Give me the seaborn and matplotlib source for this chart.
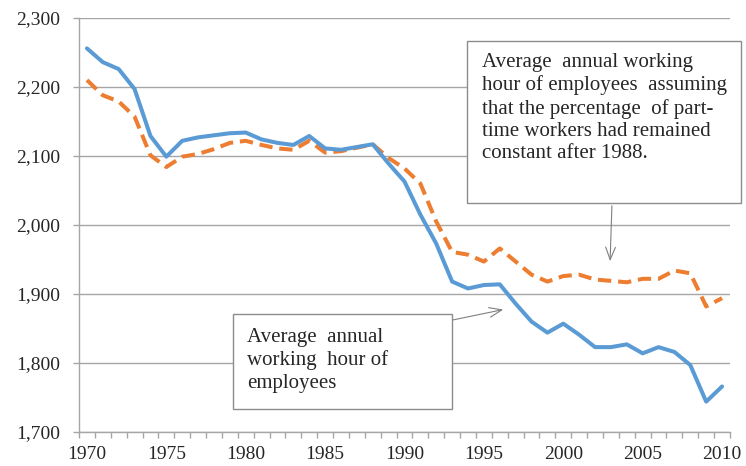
import numpy as np
import pandas as pd
import seaborn as sns
import matplotlib.pyplot as plt
from matplotlib.ticker import FuncFormatter, MultipleLocator
from matplotlib.patches import Rectangle

years = list(range(1970, 2011))

actual_hours = [2256, 2236, 2226, 2197, 2129, 2099, 2122, 2127, 2130, 2133,
                2134, 2124, 2119, 2116, 2129, 2111, 2109, 2113, 2117, 2089,
                2063, 2015, 1973, 1918, 1908, 1913, 1914, 1886, 1860, 1844,
                1857, 1841, 1823, 1823, 1827, 1814, 1823, 1816, 1797, 1744,
                1766]

constant_pt_hours = [2210, 2188, 2179, 2157, 2101, 2084, 2099, 2103, 2110, 2119,
                     2122, 2116, 2111, 2109, 2122, 2105, 2107, 2112, 2117, 2097,
                     2082, 2060, 2005, 1961, 1957, 1947, 1966, 1947, 1928, 1918,
                     1926, 1928, 1921, 1919, 1917, 1922, 1922, 1934, 1930, 1882,
                     1894]

label_actual = "Average  annual\nworking  hour of\nemployees"
label_constant = ("Average  annual working\nhour of employees  assuming\n"
                  "that the percentage  of part-\ntime workers had remained\n"
                  "constant after 1988.")

df = pd.DataFrame({"year": years, "actual": actual_hours,
                   "constant": constant_pt_hours})

sns.set_style("white")
plt.rcParams['font.family'] = ['Liberation Serif', 'DejaVu Serif']

W, H = 746, 466
fig = plt.figure(figsize=(W / 100, H / 100), dpi=100)
ax = fig.add_axes([79 / W, 34 / H, 651 / W, 414 / H])

grid_col = "#a6a6a6"
box_col = "#8c8c8c"
arrow_col = "#808080"

sns.lineplot(data=df, x="year", y="constant", ax=ax, color="#ED7D31",
             linewidth=2.9, linestyle=(0, (3.3, 1.7)), zorder=3)
sns.lineplot(data=df, x="year", y="actual", ax=ax, color="#5B9BD5",
             linewidth=2.9, zorder=4)

ax.set_xlim(1969.5, 2010.5)
ax.set_ylim(1700, 2300)
ax.set_xlabel("")
ax.set_ylabel("")

ax.yaxis.set_major_locator(MultipleLocator(100))
ax.yaxis.set_major_formatter(FuncFormatter(lambda v, p: f"{int(v):,}"))
ax.set_xticks(list(range(1970, 2011, 5)))
ax.set_xticks(np.arange(1969.5, 2011, 1.0), minor=True)

ax.grid(axis="y", color=grid_col, linewidth=1.0, zorder=0)
ax.grid(axis="x", visible=False)
for s in ["top", "right"]:
    ax.spines[s].set_visible(False)
for s in ["left", "bottom"]:
    ax.spines[s].set_color(grid_col)
    ax.spines[s].set_linewidth(1.0)

ax.tick_params(axis="y", which="major", length=4.5, width=1.0, color=grid_col,
               direction="out", pad=9, labelsize=14, left=True)
ax.tick_params(axis="x", which="major", length=0, pad=10, labelsize=14,
               bottom=True)
ax.tick_params(axis="x", which="minor", length=4.5, width=1.0, color=grid_col,
               direction="out", bottom=True)

arrow = dict(arrowstyle="->,head_length=0.9,head_width=0.35",
             color=arrow_col, lw=0.8)

# box for the dashed series
ax.annotate("", xy=(610, H - 264), xycoords="figure pixels",
            xytext=(612, H - 203), textcoords="figure pixels",
            arrowprops=arrow, zorder=6)
fig.patches.append(Rectangle((467 / W, (H - 203) / H), 274 / W, 162 / H,
                             transform=fig.transFigure, fc="white",
                             ec=box_col, lw=1.0, zorder=5))
fig.text(482 / W, (H - 53) / H, label_constant, fontsize=15,
         va="top", ha="left", linespacing=1.23, zorder=7)

# box for the solid series
fig.patches.append(Rectangle((233 / W, (H - 409) / H), 219 / W, 95 / H,
                             transform=fig.transFigure, fc="white",
                             ec=box_col, lw=1.0, zorder=5))
fig.text(247 / W, (H - 328) / H, label_actual, fontsize=15,
         va="top", ha="left", linespacing=1.23, zorder=7)
ax.annotate("", xy=(506, H - 309), xycoords="figure pixels",
            xytext=(443, H - 322), textcoords="figure pixels",
            arrowprops=arrow, zorder=6)

fig.savefig("out.png", dpi=100)
